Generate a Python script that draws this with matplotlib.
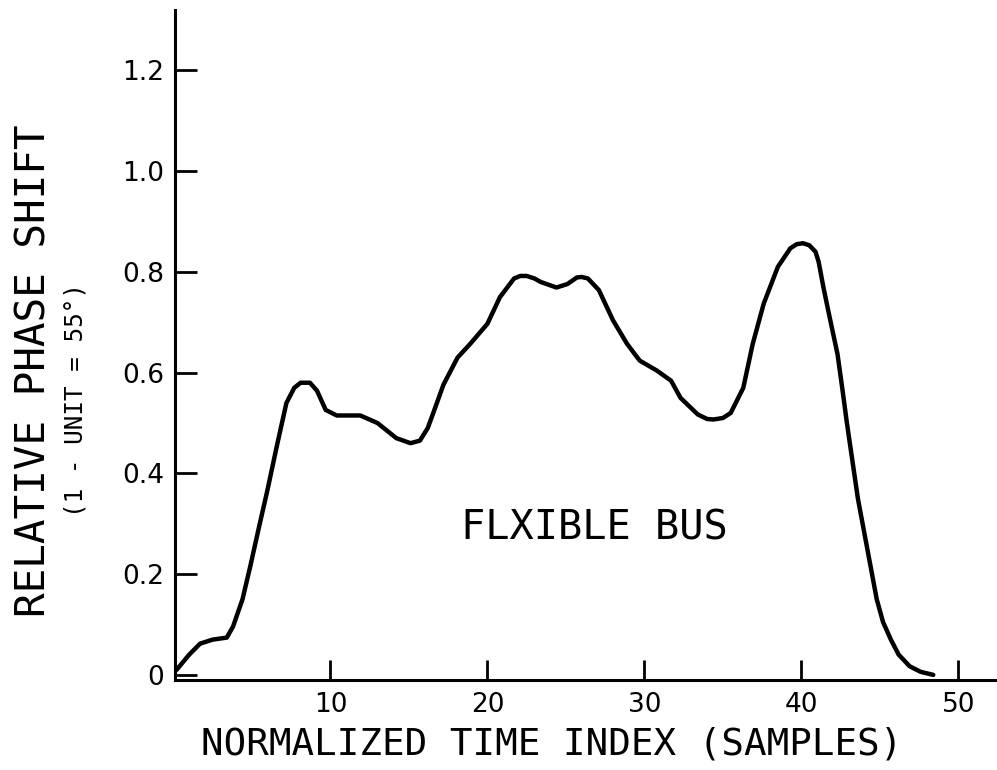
import matplotlib
matplotlib.use("Agg")
import matplotlib.pyplot as plt

# Data
time_index = [0.2, 1.0, 1.7, 2.5, 3.4, 3.8, 4.4, 4.9, 5.5, 5.97, 6.6, 7.2, 7.7, 8.1,
              8.7, 9.15, 9.7, 10.4, 11.2, 11.9, 13.0, 14.2, 15.1, 15.7, 16.2, 16.6,
              17.2, 18.1, 18.9, 20.0, 20.8, 21.7, 22.1, 22.5, 23.0, 23.4, 24.4, 25.1,
              25.7, 26.0, 26.4, 27.1, 28.0, 28.9, 29.7, 30.8, 31.7, 32.3, 33.4, 34.0,
              34.4, 35.0, 35.5, 36.3, 36.9, 37.6, 38.5, 39.3, 39.7, 40.1, 40.5, 40.9,
              41.1, 41.4, 41.8, 42.3, 42.6, 42.9, 43.6, 44.2, 44.8, 45.2, 45.7, 46.2,
              46.9, 47.6, 48.4]
phase_shift = [0.01, 0.04, 0.062, 0.07, 0.074, 0.096, 0.15, 0.216, 0.30, 0.364, 0.456,
               0.54, 0.57, 0.58, 0.58, 0.564, 0.526, 0.515, 0.515, 0.515, 0.50, 0.47,
               0.46, 0.465, 0.49, 0.524, 0.576, 0.63, 0.657, 0.697, 0.75, 0.787, 0.792,
               0.792, 0.787, 0.78, 0.769, 0.776, 0.789, 0.79, 0.787, 0.764, 0.704,
               0.657, 0.624, 0.604, 0.584, 0.55, 0.517, 0.508, 0.507, 0.51, 0.52, 0.57,
               0.657, 0.737, 0.81, 0.847, 0.855, 0.857, 0.853, 0.84, 0.82, 0.77, 0.71,
               0.637, 0.57, 0.50, 0.35, 0.25, 0.15, 0.105, 0.07, 0.04, 0.017, 0.006, 0.0]

x_ticks = [10, 20, 30, 40, 50]
x_tick_labels = ["10", "20", "30", "40", "50"]
y_ticks = [0, 0.2, 0.4, 0.6, 0.8, 1.0, 1.2]
y_tick_labels = ["0", "0.2", "0.4", "0.6", "0.8", "1.0", "1.2"]

x_title = "NORMALIZED TIME INDEX (SAMPLES)"
y_title = "RELATIVE PHASE SHIFT"
y_subtitle = "(1 - UNIT = 55°)"
annotation = "FLXIBLE BUS"

plt.rcParams['font.family'] = ['DejaVu Sans']
MONO = ['DejaVu Sans Mono']

fig = plt.figure(figsize=(9.97, 7.70), dpi=100)
ax = fig.add_axes([0.1755, 0.117, 1.0 - 0.1755, 0.987 - 0.117])

ax.plot(time_index, phase_shift, color='black', lw=3.2,
        solid_joinstyle='round', solid_capstyle='round')

ax.set_xlim(0.1, 52.46)
ax.set_ylim(-0.01, 1.32)

for s in ['top', 'right']:
    ax.spines[s].set_visible(False)
for s in ['left', 'bottom']:
    ax.spines[s].set_linewidth(2.2)

ax.set_xticks(x_ticks)
ax.set_xticklabels(x_tick_labels)
ax.set_yticks(y_ticks)
ax.set_yticklabels(y_tick_labels)
ax.tick_params(axis='both', direction='in', width=2.0, labelsize=19)
ax.tick_params(axis='x', pad=9, length=14.5)
ax.tick_params(axis='y', pad=8, length=16)

fig.text(0.553, 0.0325, x_title, ha='center', va='center', fontsize=27,
         family=MONO)
fig.text(0.035, 0.518, y_title, ha='center', va='center', rotation=90,
         fontsize=29.5, family=MONO)
fig.text(0.076, 0.481, y_subtitle, ha='center', va='center', rotation=90,
         fontsize=17.5, family=MONO)

ax.text(26.8, 0.29, annotation, ha='center', va='center', fontsize=29,
        family=MONO)

fig.savefig("out.png", dpi=100, facecolor='white')
